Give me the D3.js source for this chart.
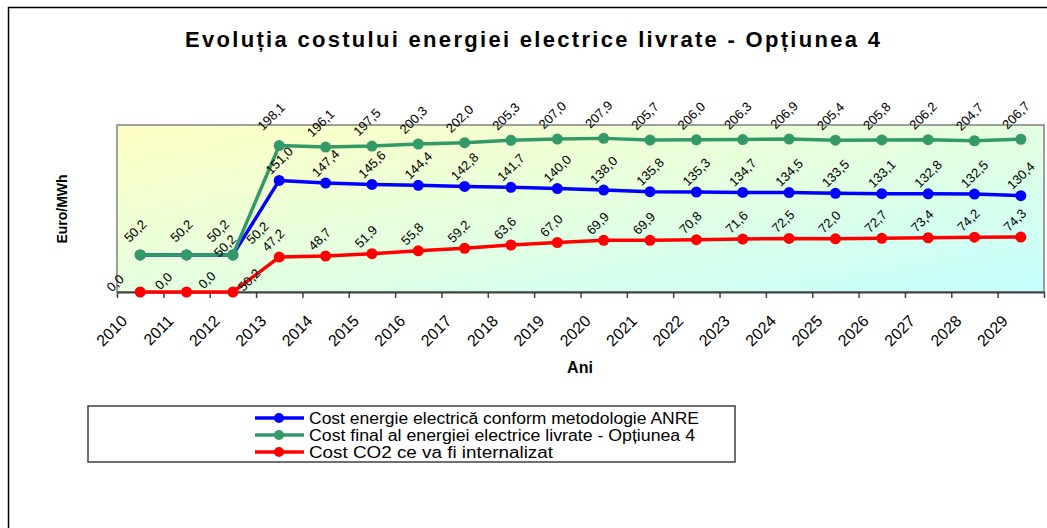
<!DOCTYPE html>
<html>
<head>
<meta charset="utf-8">
<script src="https://cdn.jsdelivr.net/npm/d3@7"></script>
<style>
  body { margin: 0; background: #fff; }
  svg text { font-family: "Liberation Sans", Arial, sans-serif; fill: #000; }
</style>
</head>
<body>
<svg width="1047" height="528"></svg>
<script>
var years = ["2010","2011","2012","2013","2014","2015","2016","2017","2018","2019",
             "2020","2021","2022","2023","2024","2025","2026","2027","2028","2029"];
var costAnre  = [50.2, 50.2, 50.2, 151.0, 147.4, 145.6, 144.4, 142.8, 141.7, 140.0,
                 138.0, 135.8, 135.3, 134.7, 134.5, 133.5, 133.1, 132.8, 132.5, 130.4];
var costFinal = [50.2, 50.2, 50.2, 198.1, 196.1, 197.5, 200.3, 202.0, 205.3, 207.0,
                 207.9, 205.7, 206.0, 206.3, 206.9, 205.4, 205.8, 206.2, 204.7, 206.7];
var costCO2   = [0.0, 0.0, 0.0, 47.2, 48.7, 51.9, 55.8, 59.2, 63.6, 67.0,
                 69.9, 69.9, 70.8, 71.6, 72.5, 72.0, 72.7, 73.4, 74.2, 74.3];
var seriesNames = ["Cost energie electrică conform metodologie ANRE",
                   "Cost final al energiei electrice livrate - Opțiunea 4",
                   "Cost CO2 ce va fi internalizat"];

var svg = d3.select("svg");
var plot = {left: 117, right: 1044, top: 125, bottom: 292};

// outer chart border (cut off on right and bottom)
svg.append("path")
    .attr("d", "M8.5,528 L8.5,7.5 L1047,7.5")
    .attr("fill", "none").attr("stroke", "#000").attr("stroke-width", 1.5);

var defs = svg.append("defs");
var grad = defs.append("linearGradient").attr("id", "bg")
    .attr("x1", 0).attr("y1", 0).attr("x2", 1).attr("y2", 1);
grad.append("stop").attr("offset", "0%").attr("stop-color", "#ffffc4");
grad.append("stop").attr("offset", "55%").attr("stop-color", "#e2ffe2");
grad.append("stop").attr("offset", "100%").attr("stop-color", "#c4ffff");

var x = d3.scaleBand().domain(years).range([plot.left, plot.right]);
var xEdge = d3.scaleLinear().domain([0, years.length]).range([plot.left, plot.right]);
var y = d3.scaleLinear().domain([0, 226]).range([plot.bottom, plot.top]);
var cx = function(d, i) { return x(years[i]) + x.bandwidth() / 2; };

svg.append("rect")
    .attr("x", plot.left).attr("y", plot.top)
    .attr("width", plot.right - plot.left).attr("height", plot.bottom - plot.top)
    .attr("fill", "url(#bg)").attr("stroke", "#808080").attr("stroke-width", 1.5);

// title
svg.append("text")
    .attr("x", 185).attr("y", 47)
    .attr("textLength", 695).attr("lengthAdjust", "spacing")
    .style("font-size", "22px").style("font-weight", "bold")
    .text("Evoluția costului energiei electrice livrate - Opțiunea 4");

// x axis: ticks at category edges
svg.append("g")
    .attr("transform", "translate(0," + plot.bottom + ")")
    .call(d3.axisBottom(xEdge).tickValues(d3.range(years.length + 1)).tickFormat("").tickSize(6).tickSizeOuter(0))
    .call(function(g) {
      g.select(".domain").attr("stroke", "#404040").attr("stroke-width", 2);
      g.selectAll(".tick line").attr("stroke", "#404040").attr("stroke-width", 1.5);
    });

svg.append("g").selectAll("text")
    .data(years)
  .enter().append("text")
    .attr("transform", function(d) {
      return "translate(" + (x(d) + x.bandwidth() / 2 - 12) + "," + (plot.bottom + 30) + ") rotate(-45)";
    })
    .attr("text-anchor", "end")
    .style("font-size", "16px")
    .text(function(d) { return d; });

svg.append("text")
    .attr("x", 580).attr("y", 373)
    .attr("text-anchor", "middle")
    .style("font-size", "16px").style("font-weight", "bold")
    .text("Ani");

svg.append("text")
    .attr("transform", "translate(67,209) rotate(-90)")
    .attr("text-anchor", "middle")
    .style("font-size", "14px").style("font-weight", "bold")
    .text("Euro/MWh");

var series = [
  {name: seriesNames[0], values: costAnre,  color: "#0000ff", off: [0, -20]},
  {name: seriesNames[1], values: costFinal, color: "#339966", off: [-5, -24]},
  {name: seriesNames[2], values: costCO2,   color: "#ff0000", off: [-6, -17]}
];
// manually moved labels, offset from their point
var labelMove = {
  "0-0": [109, 25], "0-1": [71, -22], "0-2": [-8, -9],
  "1-2": [-15, -24], "1-3": [-8, -29],
  "2-0": [-25, -9], "2-1": [-23, -11], "2-2": [-26, -12]
};

var line = d3.line().x(cx).y(function(d) { return y(d); });
var fmt = function(v) { return d3.format(".1f")(v).replace(".", ","); };

// series order: later series drawn on top
series.forEach(function(s) {
  var g = svg.append("g");
  g.append("path")
      .datum(s.values)
      .attr("d", line)
      .attr("fill", "none").attr("stroke", s.color).attr("stroke-width", 3.5)
      .attr("stroke-linejoin", "round");
  g.selectAll("circle")
      .data(s.values)
    .enter().append("circle")
      .attr("cx", cx).attr("cy", function(d) { return y(d); })
      .attr("r", 5.5).attr("fill", s.color);
});

series.forEach(function(s, si) {
  svg.append("g").selectAll("text")
      .data(s.values)
    .enter().append("text")
      .attr("transform", function(d, i) {
        var o = labelMove[si + "-" + i] || s.off;
        return "translate(" + (cx(d, i) + o[0]) + "," + (y(d) + o[1]) + ") rotate(-45)";
      })
      .attr("text-anchor", "middle")
      .attr("dy", "0.35em")
      .style("font-size", "13px")
      .text(fmt);
});

// legend
var legendWidths = [390, 386, 244];
var legend = svg.append("g");
legend.append("rect")
    .attr("x", 88).attr("y", 406).attr("width", 647).attr("height", 56)
    .attr("fill", "#fff").attr("stroke", "#404040").attr("stroke-width", 1.5);
var item = legend.selectAll("g.item")
    .data(series)
  .enter().append("g")
    .attr("class", "item")
    .attr("transform", function(d, i) { return "translate(0," + (418 + i * 17) + ")"; });
item.append("line")
    .attr("x1", 255).attr("x2", 304)
    .attr("stroke", function(d) { return d.color; }).attr("stroke-width", 3.5);
item.append("circle")
    .attr("cx", 279).attr("r", 5).attr("fill", function(d) { return d.color; });
item.append("text")
    .attr("x", 309).attr("dy", "0.35em")
    .attr("textLength", function(d, i) { return legendWidths[i]; })
    .attr("lengthAdjust", "spacingAndGlyphs")
    .style("font-size", "16px")
    .text(function(d) { return d.name; });
</script>
</body>
</html>
